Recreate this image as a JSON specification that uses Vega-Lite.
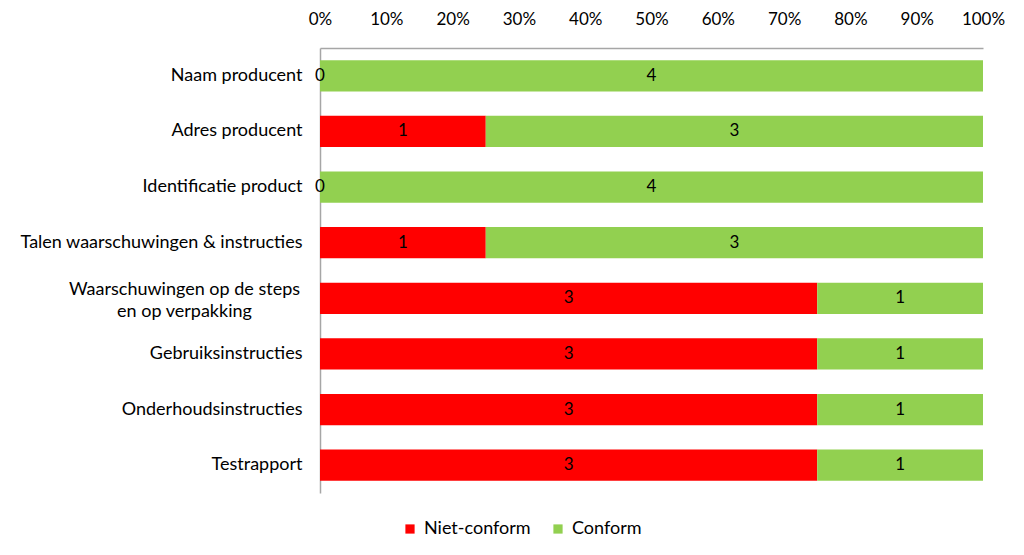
{
  "$schema": "https://vega.github.io/schema/vega-lite/v6.json",
  "width": 663,
  "height": 445,
  "autosize": {"type": "none"},
  "padding": {"left": 320, "top": 48, "right": 41, "bottom": 62},
  "background": "white",
  "config": {
    "font": "Lato",
    "view": {"stroke": null},
    "axis": {"labelFont": "Lato", "labelFontSize": 17, "labelColor": "#000000", "grid": false, "ticks": false, "domainColor": "#a6a6a6", "domainWidth": 1.5},
    "legend": {"labelFont": "Lato", "labelFontSize": 18, "labelColor": "#000000"}
  },
  "data": {
    "values": [
      {"cat": "Naam producent", "status": "Niet-conform", "count": 0},
      {"cat": "Naam producent", "status": "Conform", "count": 4},
      {"cat": "Adres producent", "status": "Niet-conform", "count": 1},
      {"cat": "Adres producent", "status": "Conform", "count": 3},
      {"cat": "Identificatie product", "status": "Niet-conform", "count": 0},
      {"cat": "Identificatie product", "status": "Conform", "count": 4},
      {"cat": "Talen waarschuwingen & instructies", "status": "Niet-conform", "count": 1},
      {"cat": "Talen waarschuwingen & instructies", "status": "Conform", "count": 3},
      {"cat": "Waarschuwingen op de steps|en op verpakking", "status": "Niet-conform", "count": 3},
      {"cat": "Waarschuwingen op de steps|en op verpakking", "status": "Conform", "count": 1},
      {"cat": "Gebruiksinstructies", "status": "Niet-conform", "count": 3},
      {"cat": "Gebruiksinstructies", "status": "Conform", "count": 1},
      {"cat": "Onderhoudsinstructies", "status": "Niet-conform", "count": 3},
      {"cat": "Onderhoudsinstructies", "status": "Conform", "count": 1},
      {"cat": "Testrapport", "status": "Niet-conform", "count": 3},
      {"cat": "Testrapport", "status": "Conform", "count": 1}
    ]
  },
  "encoding": {
    "y": {
      "field": "cat",
      "type": "nominal",
      "sort": null,
      "title": null,
      "scale": {"paddingInner": 0.44, "paddingOuter": 0.22},
      "axis": {
        "labelPadding": {"condition": {"test": "indexof(datum.value, '|') >= 0", "value": 136}, "value": 18},
        "labelAlign": {"condition": {"test": "indexof(datum.value, '|') >= 0", "value": "center"}, "value": "right"},
        "labelFontSize": 18,
        "labelLimit": 400,
        "labelExpr": "split(datum.value, '|')",
        "labelLineHeight": 22,
        "labelOffset": {"condition": {"test": "indexof(datum.value, '|') >= 0", "value": -8}, "value": 0}
      }
    }
  },
  "layer": [
    {
      "mark": {"type": "bar"},
      "encoding": {
        "x": {
          "field": "count",
          "type": "quantitative",
          "stack": "normalize",
          "title": null,
          "scale": {"domain": [0, 1]},
          "axis": {"orient": "top", "format": "%", "values": [0, 0.1, 0.2, 0.3, 0.4, 0.5, 0.6, 0.7, 0.8, 0.9, 1], "labelOverlap": false, "labelFlush": false, "labelPadding": 20}
        },
        "order": {"field": "status", "sort": "descending"},
        "color": {
          "field": "status",
          "type": "nominal",
          "sort": ["Niet-conform", "Conform"],
          "scale": {"domain": ["Niet-conform", "Conform"], "range": ["#ff0000", "#92d050"]},
          "title": null,
          "legend": {"orient": "none", "direction": "horizontal", "legendX": 81, "legendY": 472, "symbolType": "square", "symbolSize": 85, "symbolStrokeWidth": 0, "columnPadding": 18, "labelOffset": 5}
        }
      }
    },
    {
      "transform": [
        {"joinaggregate": [{"op": "sum", "field": "count", "as": "total"}], "groupby": ["cat"]},
        {"window": [{"op": "sum", "field": "count", "as": "cum"}], "groupby": ["cat"], "sort": [{"field": "status", "order": "descending"}], "frame": [null, 0]},
        {"calculate": "(datum.cum - datum.count / 2) / datum.total", "as": "mid"}
      ],
      "mark": {"type": "text", "fontSize": 17, "color": "#000000", "font": "Lato"},
      "encoding": {
        "x": {"field": "mid", "type": "quantitative"},
        "text": {"field": "count", "type": "quantitative"}
      }
    }
  ]
}
